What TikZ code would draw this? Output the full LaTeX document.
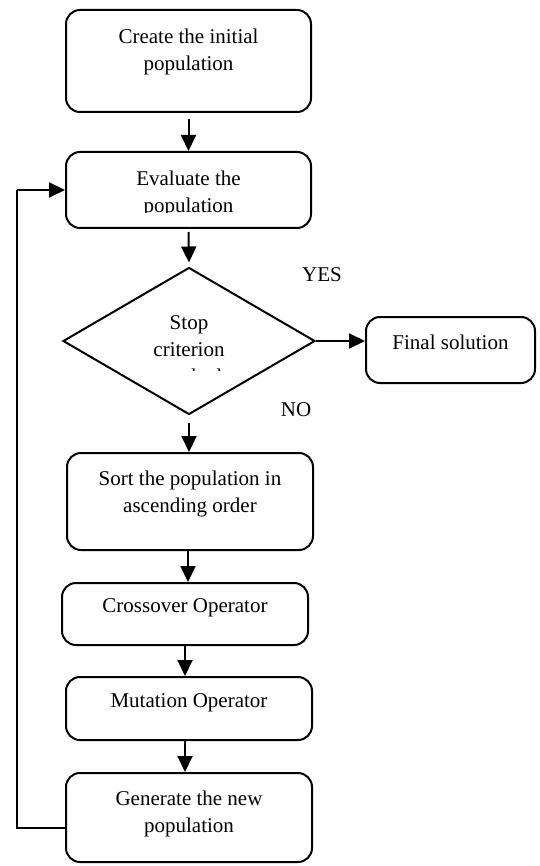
\documentclass[tikz,border=0pt]{standalone}
\usepackage{fontspec}
\setmainfont{Liberation Serif}
\usetikzlibrary{arrows.meta,shapes.geometric}
\begin{document}
\begin{tikzpicture}[x=1pt,y=-1pt,
  box/.style={draw,line width=2pt,rounded corners=14pt,inner sep=0pt},
  lbl/.style={align=center,font=\fontsize{21}{27}\selectfont,inner sep=0pt},
  arr/.style={line width=2pt,-{Triangle[length=16pt,width=15pt]}},
  ln/.style={line width=2pt}]
\useasboundingbox (0,0) rectangle (539,866);
% boxes
\node[box,minimum width=245pt,minimum height=102pt] (b1) at (188.5,61) {};
\node[lbl] (t1) at (188.5,52) {Create the initial\\population};
\node[box,minimum width=245pt,minimum height=76pt] (b2) at (188.5,190) {};
\begin{scope}
\clip (66,152) rectangle (311,213);
\node[lbl] (t2) at (188.5,193.5) {Evaluate the\\population};
\end{scope}
\node[draw,diamond,line width=2pt,inner sep=0pt,minimum width=252pt,minimum height=147pt] (d) at (189,341) {};
\begin{scope}
\clip (120,300) rectangle (260,370);
\node[lbl] (td) at (189,350) {Stop\\criterion\\reached};
\end{scope}
\node[box,minimum width=169pt,minimum height=66pt] (f) at (450.5,350) {};
\node[lbl] (tf) at (450.5,342) {Final solution};
\node[box,minimum width=246pt,minimum height=97pt] (s) at (190,501.5) {};
\node[lbl] (ts) at (190,494) {Sort the population in\\ascending order};
\node[box,minimum width=246pt,minimum height=62pt] (c) at (185,614) {};
\node[lbl] (tc) at (185,608) {Crossover Operator};
\node[box,minimum width=246pt,minimum height=63pt] (m) at (189,708.5) {};
\node[lbl] (tm) at (189,703) {Mutation Operator};
\node[box,minimum width=246pt,minimum height=89pt] (g) at (189,817.5) {};
\node[lbl] (tg) at (189,814) {Generate the new\\population};
\node[lbl] (yes) at (322,275) {YES};
\node[lbl] (no) at (296,410) {NO};
% arrows
\draw[arr] ([yshift=-6pt]b1.south) -- (b1.south |- b2.north);
\draw[arr] ([yshift=-3pt]b2.south) -- ([yshift=4pt]d.north);
\draw[arr] (d.east) -- (f.west |- d.east);
\draw[arr] ([yshift=-7pt]d.south) -- (d.south |- s.north);
\draw[arr] (s.south -| 188,0) -- (c.north -| 188,0);
\draw[arr] (c.south) -- (m.north -| c.south);
\draw[arr] (m.south -| c.south) -- (g.north -| c.south);
\coordinate (fb1) at (17,828);
\coordinate (fb2) at (17,190);
\draw[ln] (g.west |- fb1) -- (fb1) -- (fb2);
\draw[arr] (fb2) -- (b2.west);
\end{tikzpicture}
\end{document}
